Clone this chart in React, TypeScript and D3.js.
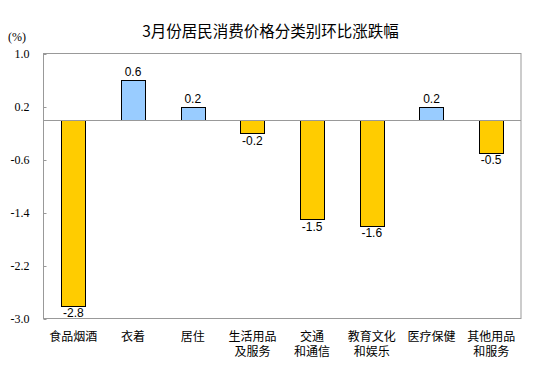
import React from "react";
import * as d3 from "d3";

const categories: string[][] = [
  ["食品烟酒"],
  ["衣着"],
  ["居住"],
  ["生活用品", "及服务"],
  ["交通", "和通信"],
  ["教育文化", "和娱乐"],
  ["医疗保健"],
  ["其他用品", "和服务"],
];
const values: number[] = [-2.8, 0.6, 0.2, -0.2, -1.5, -1.6, 0.2, -0.5];
const yTicks: number[] = [1.0, 0.2, -0.6, -1.4, -2.2, -3.0];
const title = "3月份居民消费价格分类别环比涨跌幅";
const unit = "(%)";

const W = 554;
const H = 384;
const plot = { left: 43.5, right: 521, top: 53.5, bottom: 318.5 };

export default function App() {
  const x = d3
    .scaleBand<number>()
    .domain(values.map((_, i) => i))
    .range([plot.left, plot.right])
    .paddingInner(0)
    .paddingOuter(0);
  const y = d3.scaleLinear().domain([-3, 1]).range([plot.bottom, plot.top]);
  const barW = 24;
  const cjk = '"Noto Sans CJK SC", "Noto Sans", sans-serif';

  return (
    <svg
      width={W}
      height={H}
      style={{ position: "absolute", left: 0, top: 0, background: "#fff" }}
    >
      <rect x={0} y={0} width={W} height={H} fill="#fff" />
      <text
        x={270.5}
        y={30}
        textAnchor="middle"
        dominantBaseline="central"
        fontFamily={cjk}
        fontSize={15.5}
        fill="#000"
      >
        {title}
      </text>
      <text
        x={8}
        y={37}
        dominantBaseline="central"
        fontFamily='"Liberation Serif", serif'
        fontSize={12}
        fill="#000"
      >
        {unit}
      </text>
      {/* plot border */}
      <rect
        x={plot.left}
        y={plot.top}
        width={plot.right - plot.left}
        height={plot.bottom - plot.top}
        fill="none"
        stroke="#999"
        strokeWidth={1}
      />
      {/* y ticks */}
      {yTicks.map((t) => (
        <g key={t}>
          <line
            x1={plot.left}
            x2={plot.left + 3}
            y1={Math.round(y(t)) + 0.5}
            y2={Math.round(y(t)) + 0.5}
            stroke="#999"
          />
          <text
            x={29.5}
            y={y(t)}
            textAnchor="end"
            dominantBaseline="central"
            fontFamily='"Liberation Serif", serif'
            fontSize={12}
            fill="#000"
          >
            {t.toFixed(1)}
          </text>
        </g>
      ))}
      {/* bars */}
      {values.map((v, i) => {
        const cx = (x(i) as number) + x.bandwidth() / 2;
        const y0 = y(0);
        const y1 = y(v);
        const top = Math.min(y0, y1);
        const h = Math.abs(y1 - y0);
        return (
          <g key={i}>
            <rect
              x={Math.round(cx - barW / 2) + 0.5}
              y={Math.round(top) + 0.5}
              width={barW}
              height={Math.round(h)}
              fill={v >= 0 ? "#99CCFF" : "#FFCC00"}
              stroke="#000"
              strokeWidth={1}
            />
            <text
              x={cx}
              y={v >= 0 ? y1 - 4 : y1 + 11.5}
              textAnchor="middle"
              fontFamily='"Liberation Sans", Arial, sans-serif'
              fontSize={12}
              fill="#000"
            >
              {v.toFixed(1)}
            </text>
          </g>
        );
      })}
      {/* zero line */}
      <line
        x1={plot.left}
        x2={plot.right}
        y1={Math.round(y(0)) + 0.5}
        y2={Math.round(y(0)) + 0.5}
        stroke="#999"
      />
      {/* category labels */}
      {categories.map((lines, i) => {
        const cx = (x(i) as number) + x.bandwidth() / 2;
        return (
          <text
            key={i}
            textAnchor="middle"
            fontFamily={cjk}
            fontSize={12}
            fill="#000"
          >
            {lines.map((l, j) => (
              <tspan key={j} x={cx} y={335 + j * 15.5} dominantBaseline="central">
                {l}
              </tspan>
            ))}
          </text>
        );
      })}
    </svg>
  );
}
